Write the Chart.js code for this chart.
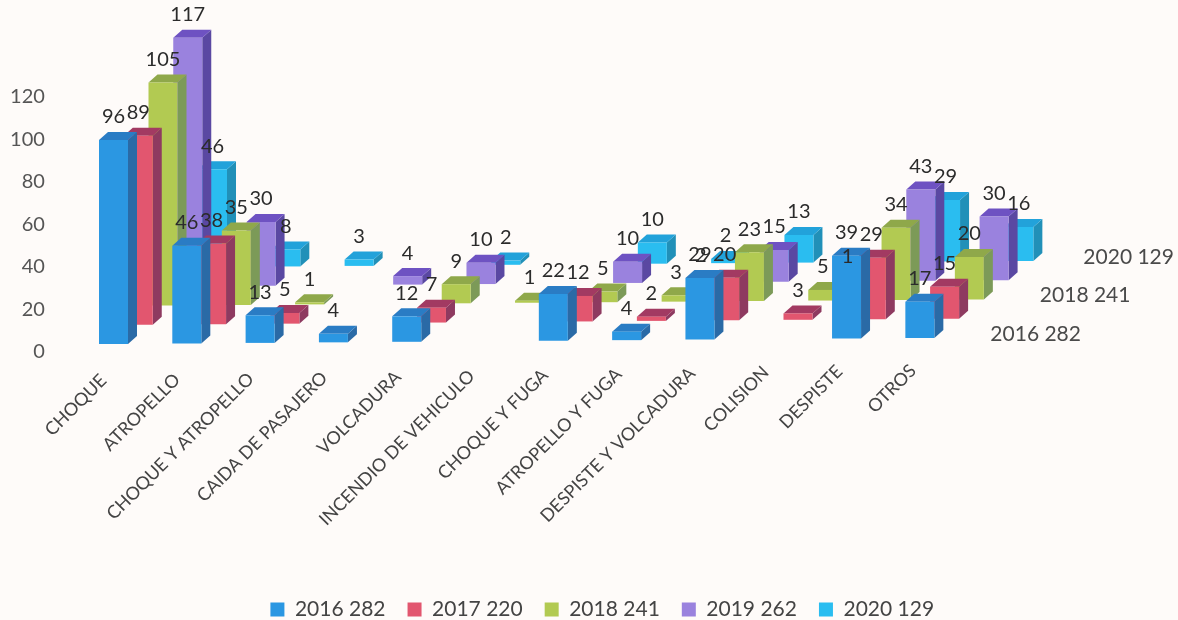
<!DOCTYPE html>
<html>
<head>
<meta charset="utf-8">
<title>Accidentes por tipo</title>
<script src="https://cdn.jsdelivr.net/npm/chart.js@4"></script>
<style>
  html, body { margin: 0; background: #fefbf9; overflow: hidden; }
  canvas { display: block; }
</style>
</head>
<body>
<canvas id="chart" width="1178" height="620"></canvas>
<script>
const categories = ['CHOQUE', 'ATROPELLO', 'CHOQUE Y ATROPELLO', 'CAIDA DE PASAJERO', 'VOLCADURA',
  'INCENDIO DE VEHICULO', 'CHOQUE Y FUGA', 'ATROPELLO Y FUGA', 'DESPISTE Y VOLCADURA', 'COLISION',
  'DESPISTE', 'OTROS'];
const seriesNames = ['2016 282', '2017 220', '2018 241', '2019 262', '2020 129'];
const values2016 = [96, 46, 13, 4, 12, 0, 22, 4, 29, 0, 39, 17];
const values2017 = [89, 38, 5, 0, 7, 0, 12, 2, 20, 3, 29, 15];
const values2018 = [105, 35, 1, 0, 9, 1, 5, 3, 23, 5, 34, 20];
const values2019 = [117, 30, 0, 4, 10, 0, 10, 2, 15, 1, 43, 30];
const values2020 = [46, 8, 3, 0, 2, 0, 10, 2, 13, 0, 29, 16];
const yTicks = [0, 20, 40, 60, 80, 100, 120];

// front, side, top face of each series
const colors = [
  ['#2b97e2', '#2a6aa6', '#2a7cc4'],
  ['#e2566f', '#8e3a60', '#a23a62'],
  ['#b2ca52', '#7c9a58', '#8fa84a'],
  ['#9a82de', '#5a48a2', '#6e52c2'],
  ['#2abdf0', '#2190b8', '#22a2da']
];

// fake depth: every series sits further back, and the floor tilts a little
const rowX = 24.75, rowY = 19.25, sideX = 9, sideY = 8, floorLift = 8, floorTilt = 0.55;

function box(bar, row, cat) {
  const shift = floorLift + row * rowY + cat * floorTilt;
  const left = bar.x - bar.width / 2 + row * rowX;
  return { left, right: left + bar.width, top: bar.y - shift, bottom: bar.base - shift };
}

function poly(ctx, color, pts) {
  ctx.fillStyle = color;
  ctx.beginPath();
  pts.forEach((p, i) => (i ? ctx.lineTo(p[0], p[1]) : ctx.moveTo(p[0], p[1])));
  ctx.closePath();
  ctx.fill();
}

const bars3d = {
  id: 'bars3d',
  afterLayout(chart) {
    // legend is centred on the whole picture, not on the narrowed plot
    chart.legend.left += 124;
    chart.legend.right += 124;
  },
  beforeDraw(chart) {
    // the tilted floor carries the category names along with it
    chart.scales.x.getLabelItems(chart.chartArea).forEach((item, i) => {
      const t = item.options.translation;
      item.options.translation = [t[0] + i * 0.3, t[1] - i * 0.9];
    });
  },
  beforeDatasetDraw(chart, args) {
    const ctx = chart.ctx;
    const row = args.index;
    const c = colors[row];
    args.meta.data.forEach((bar, cat) => {
      if (!chart.data.datasets[row].data[cat]) return;
      const b = box(bar, row, cat);
      poly(ctx, c[1], [[b.right, b.top], [b.right + sideX, b.top - sideY], [b.right + sideX, b.bottom - sideY], [b.right, b.bottom]]);
      poly(ctx, c[2], [[b.left, b.top], [b.right, b.top], [b.right + sideX, b.top - sideY], [b.left + sideX, b.top - sideY]]);
      poly(ctx, c[0], [[b.left, b.top], [b.right, b.top], [b.right, b.bottom], [b.left, b.bottom]]);
    });
    return false;
  },
  afterDatasetsDraw(chart) {
    const ctx = chart.ctx;
    ctx.save();
    ctx.textBaseline = 'middle';
    ctx.font = '20px Lato';
    ctx.textAlign = 'center';
    ctx.fillStyle = '#2b2b2b';
    chart.data.datasets.forEach((ds, row) => {
      chart.getDatasetMeta(row).data.forEach((bar, cat) => {
        if (!ds.data[cat]) return;
        const b = box(bar, row, cat);
        ctx.fillText(ds.data[cat], (b.left + b.right) / 2, b.top - 23);
      });
    });
    // depth axis names at the right end of the rows
    ctx.font = '21px Lato';
    ctx.textAlign = 'left';
    ctx.fillStyle = '#4a4a4a';
    [[0, 56], [2, 56], [4, 50]].forEach(([row, gap]) => {
      const last = categories.length - 1;
      const b = box(chart.getDatasetMeta(row).data[last], row, last);
      ctx.fillText(seriesNames[row], b.right + gap, b.bottom - 4);
    });
    ctx.restore();
  }
};

const seriesValues = [values2016, values2017, values2018, values2019, values2020];

new Chart(document.getElementById('chart'), {
  type: 'bar',
  plugins: [bars3d],
  data: {
    labels: categories,
    datasets: seriesNames.map((name, i) => ({
      label: name,
      data: seriesValues[i],
      backgroundColor: colors[i][0],
      grouped: false,
      barThickness: 29
    }))
  },
  options: {
    responsive: false,
    animation: false,
    layout: { autoPadding: false, padding: { top: 97, right: 221.5, bottom: -10, left: 0 } },
    plugins: {
      tooltip: { enabled: false },
      legend: {
        position: 'bottom',
        onClick: null,
        labels: { boxWidth: 14, boxHeight: 14, padding: 22, color: '#444', font: { family: 'Lato', size: 21 } }
      }
    },
    scales: {
      x: {
        grid: { display: false, drawTicks: false },
        border: { display: false },
        afterFit: scale => { scale.height = 225; },
        ticks: {
          autoSkip: false,
          minRotation: 45,
          maxRotation: 45,
          padding: 18,
          labelOffset: -10,
          color: '#444',
          font: { family: 'Lato', size: 18 }
        }
      },
      y: {
        min: 0,
        max: 120,
        grid: { display: false, drawTicks: false },
        border: { display: false },
        afterFit: scale => { scale.width = 76.85; },
        afterBuildTicks: scale => { scale.ticks = yTicks.map(value => ({ value })); },
        ticks: { padding: 32, color: '#555', font: { family: 'Lato', size: 20 } }
      }
    }
  }
});
</script>
</body>
</html>
